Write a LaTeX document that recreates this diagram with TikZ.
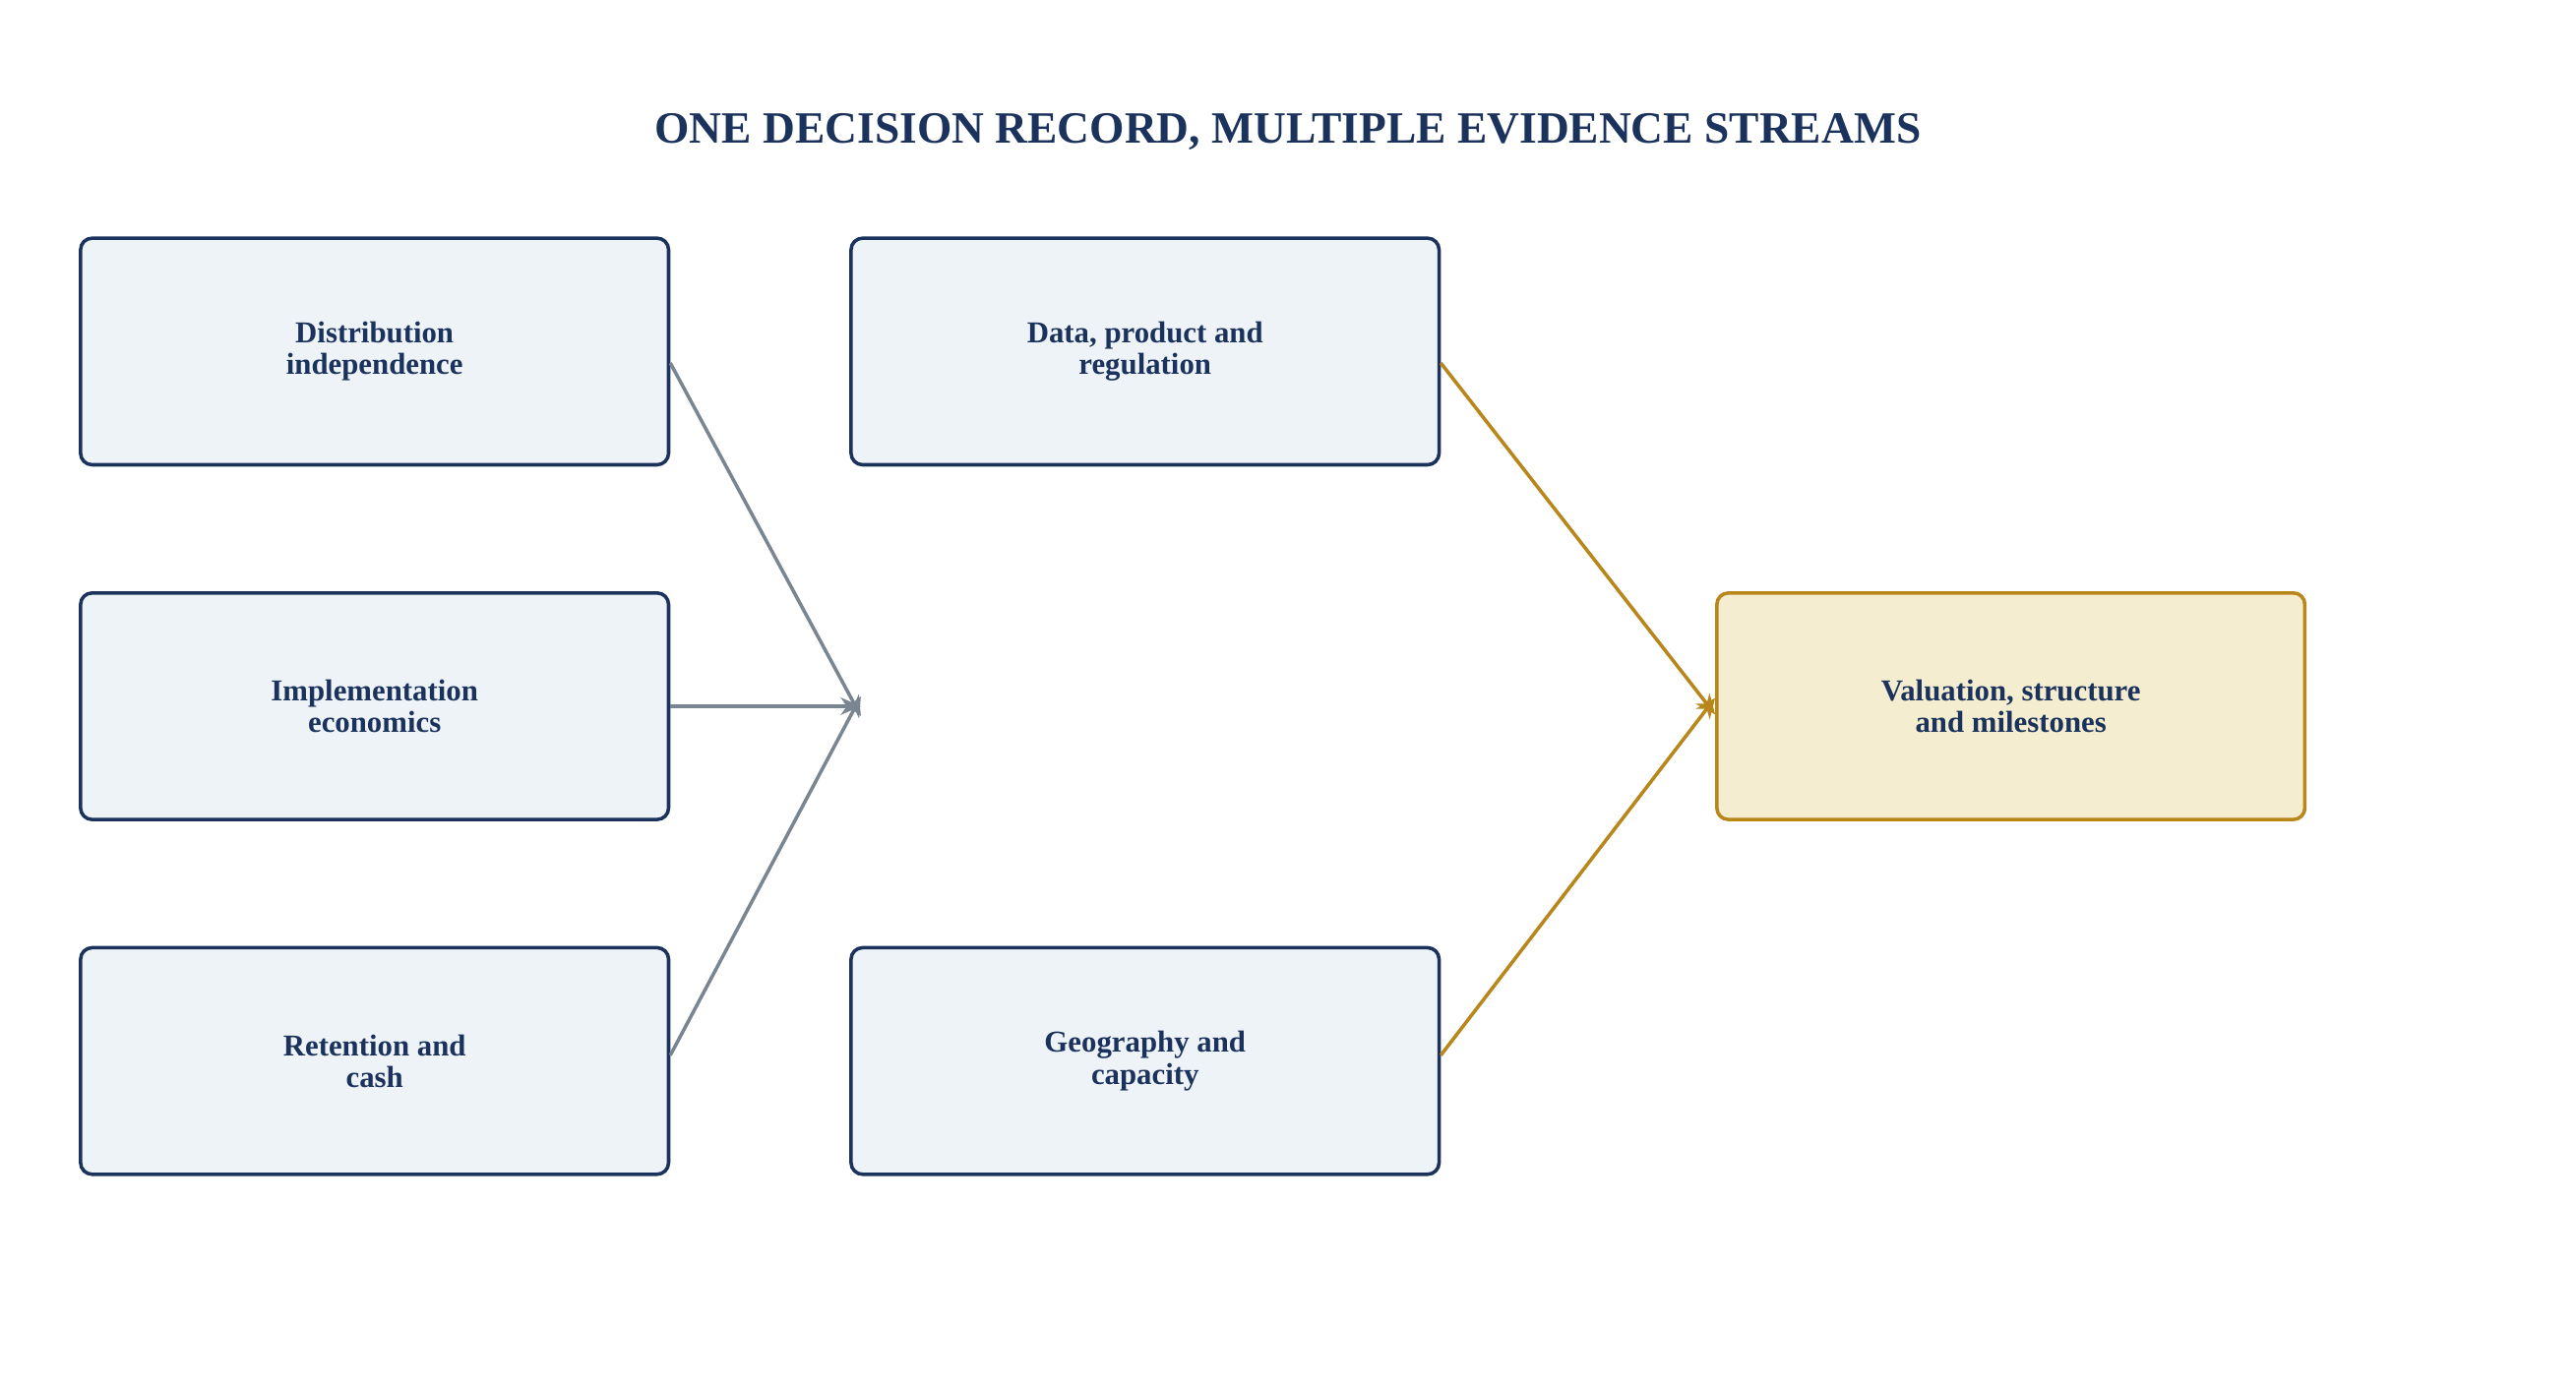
\documentclass[tikz,border=0pt]{standalone}
\usepackage{fontspec}
\setmainfont{Liberation Serif}
\usepackage{tikz}
\usetikzlibrary{arrows.meta,positioning}
\definecolor{navy}{HTML}{1B335C}
\definecolor{boxfill}{HTML}{EEF3F8}
\definecolor{gold}{HTML}{B8861B}
\definecolor{goldfill}{HTML}{F5EDCF}
\definecolor{slate}{HTML}{7A8592}

\begin{document}
\begin{tikzpicture}[x=0.02cm, y=-0.02cm, >={Stealth[length=7pt,width=6pt]}]
   \useasboundingbox (0,0) rectangle (1568,843);
   \tikzset{stream/.style={draw=navy, fill=boxfill, line width=1.2pt, rounded corners=4pt,
              minimum width=7.16cm, minimum height=2.76cm, align=center,
              font=\bfseries\fontsize{10.5}{11}\selectfont, text=navy},
            goal/.style={stream, draw=gold, fill=goldfill}}
   \node (title) at (784,80) [font=\bfseries\fontsize{15.5}{18}\selectfont, text=navy]
      {ONE DECISION RECORD, MULTIPLE EVIDENCE STREAMS};
   \node (dist) [stream] at (228,214) {Distribution\\independence};
   \node (impl) [stream] at (228,430) {Implementation\\economics};
   \node (ret) [stream] at (228,646) {Retention and\\cash};
   \node (data) [stream] at (697,214) {Data, product and\\regulation};
   \node (geo) [stream] at (697,646) {Geography and\\capacity};
   \node (val) [goal] at (1224,430) {Valuation, structure\\and milestones};
   \coordinate (hub) at (524,430);
   \begin{scope}[->, line width=1.2pt]
    \draw[slate] ([yshift=-4pt]dist.east) -- ([yshift=-0.12cm]hub);
    \draw[slate] (impl.east) -- (hub);
    \draw[slate] ([yshift=2pt]ret.east) -- ([yshift=0.12cm]hub);
    \draw[gold] ([yshift=-4pt]data.east) -- ([yshift=-0.1cm]val.west);
    \draw[gold] ([yshift=2pt]geo.east) -- ([yshift=0.1cm]val.west);
   \end{scope}
\end{tikzpicture}
\end{document}
